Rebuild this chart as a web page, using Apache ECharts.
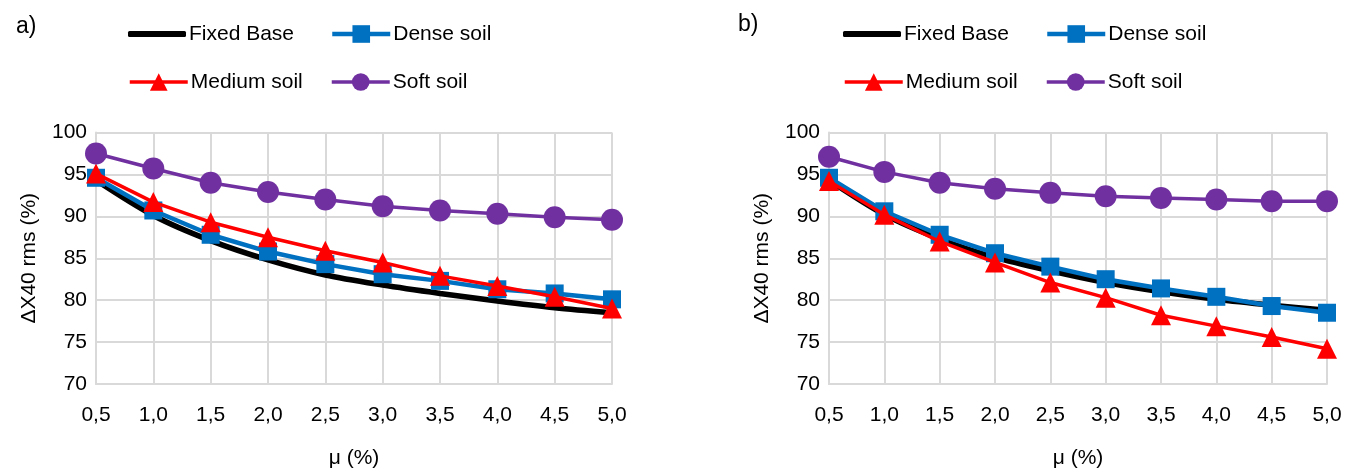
<!DOCTYPE html>
<html>
<head>
<meta charset="utf-8">
<script src="https://cdn.jsdelivr.net/npm/echarts@6/dist/echarts.min.js"></script>
<style>
html,body{margin:0;padding:0;background:#fff;}
#c{width:1360px;height:474px;}
</style>
</head>
<body>
<div id="c"></div>
<script>
// ---- data ----
const muLabels = ['0,5','1,0','1,5','2,0','2,5','3,0','3,5','4,0','4,5','5,0'];
const yTicks = [70, 75, 80, 85, 90, 95, 100];

const aFixed  = [94.3, 90.1, 87.1, 84.8, 83.0, 81.8, 80.8, 79.9, 79.1, 78.5];
const aDense  = [94.6, 90.7, 87.8, 85.8, 84.3, 83.1, 82.3, 81.3, 80.8, 80.1];
const aMedium = [95.1, 91.7, 89.3, 87.5, 85.9, 84.5, 82.9, 81.7, 80.4, 79.0];
const aSoft   = [97.5, 95.7, 94.0, 92.9, 92.0, 91.2, 90.7, 90.3, 89.9, 89.6];

const bFixed  = [94.3, 90.2, 87.3, 85.1, 83.5, 82.1, 81.0, 80.1, 79.4, 78.8];
const bDense  = [94.6, 90.6, 87.8, 85.6, 84.0, 82.5, 81.4, 80.4, 79.3, 78.5];
const bMedium = [94.2, 90.2, 87.0, 84.5, 82.1, 80.3, 78.2, 76.9, 75.6, 74.2];
const bSoft   = [97.1, 95.3, 94.0, 93.3, 92.8, 92.4, 92.2, 92.0, 91.8, 91.8];

const names = ['Fixed Base', 'Dense soil', 'Medium soil', 'Soft soil'];
const colors = ['#000000', '#0070C0', '#FF0000', '#7030A0'];
const symbols = ['none', 'rect', 'triangle', 'circle'];
const symSizes = [0, 18, 20, 22];
const widths = [5.5, 4.5, 3.5, 3.5];

const FONT = 'Liberation Sans, Arial, sans-serif';
const chart = echarts.init(document.getElementById('c'), null, {renderer: 'canvas'});

function mkSeries(gi, arrs) {
  return arrs.map((d, i) => ({
    name: names[i], type: 'line', xAxisIndex: gi, yAxisIndex: gi,
    data: d, symbol: symbols[i], symbolSize: symSizes[i], showSymbol: i > 0,
    smooth: i === 0 ? 0.3 : false,
    lineStyle: {color: colors[i], width: widths[i]},
    itemStyle: {color: colors[i]},
    z: 2 + i, animation: false
  }));
}

function mkX(gi) {
  return {
    gridIndex: gi, type: 'category', data: muLabels, boundaryGap: false,
    axisLine: {lineStyle: {color: '#D9D9D9', width: 2}},
    axisTick: {show: false},
    axisLabel: {color: '#000', fontSize: 21, fontFamily: FONT, margin: 21, interval: 0},
    splitLine: {show: true, lineStyle: {color: '#D9D9D9', width: 2}},
    name: 'μ (%)', nameLocation: 'middle', nameGap: 64,
    nameTextStyle: {color: '#000', fontSize: 21, fontFamily: FONT}
  };
}
function mkY(gi) {
  return {
    gridIndex: gi, type: 'value', min: yTicks[0], max: yTicks[yTicks.length - 1], interval: 5,
    axisLine: {show: true, lineStyle: {color: '#D9D9D9', width: 2}},
    axisTick: {show: false},
    axisLabel: {color: '#000', fontSize: 21, fontFamily: FONT, margin: 9},
    splitLine: {show: true, lineStyle: {color: '#D9D9D9', width: 2}},
    name: 'ΔX40 rms (%)', nameLocation: 'middle', nameGap: 56, nameRotate: 90,
    nameTextStyle: {color: '#000', fontSize: 21, fontFamily: FONT}
  };
}

function mkLegend(idx, left, centerY) {
  const isFixed = idx === 0;
  const h = isFixed ? 6 : 22;
  return {
    data: [isFixed ? {name: names[idx], icon: 'roundRect'} : names[idx]],
    left: left, top: centerY - 12, padding: 0, height: 24,
    itemWidth: 58, itemHeight: h, itemGap: 4,
    lineStyle: {width: widths[idx]},
    textStyle: {color: '#000', fontSize: 21, fontFamily: FONT, padding: [0, 0, 0, -2], lineHeight: 24},
    selectedMode: false
  };
}

const legendPos = [
  [0, 128, 34], [1, 330, 34], [2, 128, 82], [3, 330, 82],
  [0, 843, 34], [1, 1045, 34], [2, 843, 82], [3, 1045, 82]
];

const option = {
  backgroundColor: '#fff',
  animation: false,
  title: [
    {text: 'a)', left: 11, top: 10, textStyle: {color: '#000', fontSize: 23, fontWeight: 'normal', fontFamily: FONT}},
    {text: 'b)', left: 733, top: 8, textStyle: {color: '#000', fontSize: 23, fontWeight: 'normal', fontFamily: FONT}}
  ],
  legend: legendPos.map(p => mkLegend(p[0], p[1], p[2])),
  grid: [
    {left: 96, right: 748, top: 132.5, bottom: 89.5},
    {left: 829, right: 33, top: 132.5, bottom: 89.5}
  ],
  xAxis: [mkX(0), mkX(1)],
  yAxis: [mkY(0), mkY(1)],
  series: mkSeries(0, [aFixed, aDense, aMedium, aSoft]).concat(mkSeries(1, [bFixed, bDense, bMedium, bSoft]))
};
chart.setOption(option);
</script>
</body>
</html>
